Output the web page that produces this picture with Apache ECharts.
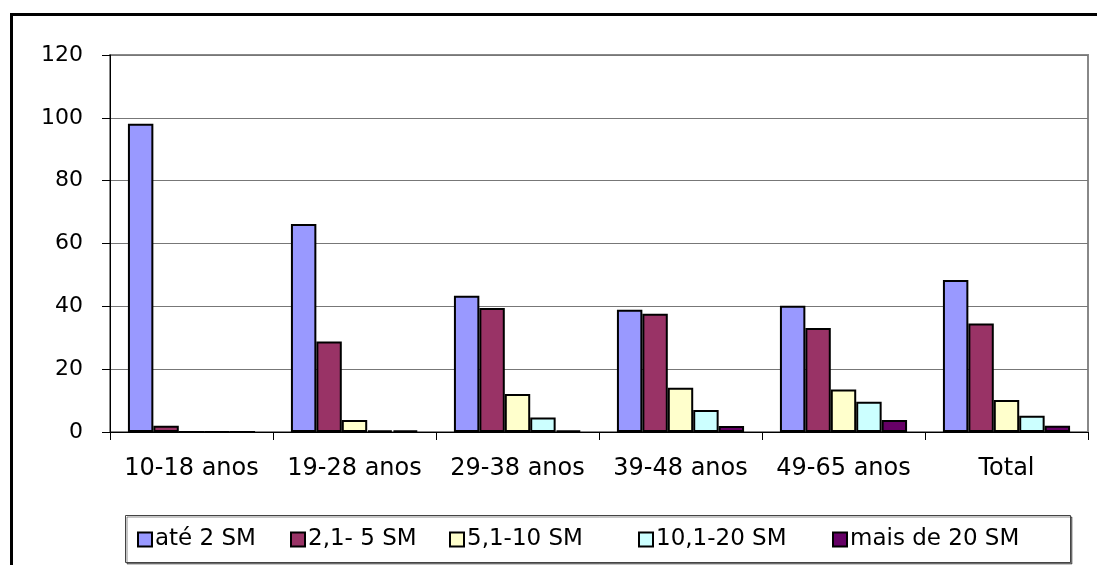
<!DOCTYPE html>
<html>
<head>
<meta charset="utf-8">
<script src="https://cdn.jsdelivr.net/npm/echarts@6/dist/echarts.min.js"></script>
<style>
  html, body { margin: 0; padding: 0; background: #fff; }
  #chart { width: 1097px; height: 565px; }
</style>
</head>
<body>
<div id="chart"></div>
<script>
// Income bands by age group (percent)
const categories = ['10-18 anos', '19-28 anos', '29-38 anos', '39-48 anos', '49-65 anos', 'Total'];
const seriesNames = ['até 2 SM', '2,1- 5 SM', '5,1-10 SM', '10,1-20 SM', 'mais de 20 SM'];
const ate2 = [98.1, 66.2, 43.4, 38.9, 40.2, 48.4];
const de2a5 = [2.0, 28.8, 39.5, 37.6, 33.1, 34.5];
const de5a10 = [0, 3.8, 12.1, 14.1, 13.5, 10.2];
const de10a20 = [0, 0.5, 4.6, 7.0, 9.6, 5.2];
const mais20 = [0, 0.5, 0.5, 1.9, 3.8, 2.0];
const yTicks = [0, 20, 40, 60, 80, 100, 120];

const seriesValues = [ate2, de2a5, de5a10, de10a20, mais20];
const colors = ['#9999FF', '#993366', '#FFFFCC', '#CCFFFF', '#660066'];
const FONT = 'DejaVu Sans';

// layout: left edge of each legend entry inside the legend box
const legendLeft = [137, 290, 449, 638, 832];

const chart = echarts.init(document.getElementById('chart'), null, { renderer: 'canvas' });

chart.setOption({
  animation: false,
  backgroundColor: '#fff',
  textStyle: { fontFamily: FONT, color: '#000' },
  graphic: [
    // outer chart frame
    { type: 'rect', shape: { x: 11.5, y: 14.5, width: 1100, height: 620 },
      style: { fill: 'none', stroke: '#000', lineWidth: 3 }, z: 0 },
    // legend frame
    { type: 'rect', shape: { x: 125.5, y: 515.5, width: 945, height: 47 },
      style: { fill: '#fff', stroke: '#444', lineWidth: 1,
               shadowColor: 'rgba(0,0,0,0.45)', shadowOffsetX: 1.5, shadowOffsetY: 1.5 }, z: 1 }
  ],
  grid: {
    left: 110, right: 9, top: 55, bottom: 133,
    show: true, borderColor: '#888', borderWidth: 2, backgroundColor: '#fff'
  },
  legend: seriesNames.map((name, i) => ({
    left: legendLeft[i], top: 528,
    padding: 0,
    itemWidth: 14, itemHeight: 14,
    icon: 'rect',
    data: [name],
    itemStyle: { borderColor: '#000', borderWidth: 2 },
    textStyle: { fontFamily: FONT, fontSize: 23, color: '#000', padding: [0, 0, 0, -2] },
    z: 5
  })),
  xAxis: {
    type: 'category',
    data: categories,
    axisLine: { lineStyle: { color: '#000', width: 1 } },
    axisTick: { show: true, length: 8, lineStyle: { color: '#000' } },
    axisLabel: { interval: 0, fontFamily: FONT, fontSize: 24, color: '#000', margin: 25 }
  },
  yAxis: {
    type: 'value',
    min: yTicks[0], max: yTicks[yTicks.length - 1], interval: 20,
    axisLine: { show: true, lineStyle: { color: '#000', width: 1 } },
    axisTick: { show: true, length: 8, lineStyle: { color: '#000' } },
    splitLine: { lineStyle: { color: '#777', width: 1 } },
    axisLabel: { fontFamily: FONT, fontSize: 22, color: '#000', margin: 27 }
  },
  series: seriesNames.map((name, i) => ({
    name,
    type: 'bar',
    data: seriesValues[i],
    barGap: '0%',
    barCategoryGap: '22%',
    itemStyle: { color: colors[i], borderColor: '#000', borderWidth: 2 }
  }))
});
</script>
</body>
</html>
